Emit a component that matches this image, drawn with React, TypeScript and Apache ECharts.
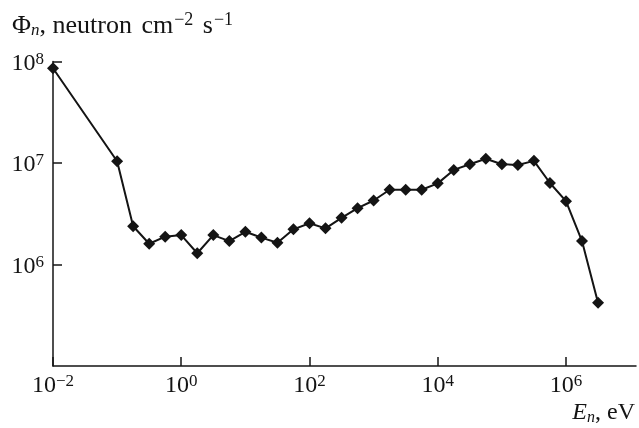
import React, { useEffect, useRef } from 'react';
import * as echarts from 'echarts';

// Neutron energy, eV
const energy = [
  0.01, 0.1, 0.1778, 0.3162, 0.5623, 1, 1.778, 3.162, 5.623, 10, 17.78, 31.62, 56.23,
  100, 177.8, 316.2, 562.3, 1000, 1778, 3162, 5623, 1e4, 1.778e4, 3.162e4, 5.623e4,
  1e5, 1.778e5, 3.162e5, 5.623e5, 1e6, 1.778e6, 3.162e6,
];
// Neutron flux, neutron cm^-2 s^-1
const flux = [
  8.57e7, 1.04e7, 2.38e6, 1.6e6, 1.88e6, 1.95e6, 1.29e6, 1.95e6, 1.7e6, 2.1e6, 1.84e6,
  1.64e6, 2.22e6, 2.55e6, 2.27e6, 2.88e6, 3.59e6, 4.27e6, 5.45e6, 5.45e6, 5.45e6, 6.3e6,
  8.55e6, 9.71e6, 1.1e7, 9.71e6, 9.57e6, 1.05e7, 6.35e6, 4.21e6, 1.7e6, 4.2e5,
];
const xTicks = [0.01, 1, 100, 1e4, 1e6];
const yTicks = [1e6, 1e7, 1e8];

const F = 'Liberation Serif';
const INK = '#141414';

function makeFormatter(shown: number[]) {
  return (v: number) => {
    const hit = shown.find((t) => Math.abs(Math.log10(t) - Math.log10(v)) < 1e-6);
    if (hit === undefined) return '';
    const e = Math.round(Math.log10(hit));
    const s = e < 0 ? '\u2212' + -e : String(e);
    return `{b|10}{s|${s}}`;
  };
}

const labelRich = {
  b: { fontFamily: F, fontSize: 24, color: INK },
  s: { fontFamily: F, fontSize: 17, color: INK, verticalAlign: 'top' },
};

export default function App() {
  const ref = useRef<HTMLDivElement>(null);
  useEffect(() => {
    if (!ref.current) return;
    const chart = echarts.init(ref.current, undefined, { renderer: 'svg' });
    chart.setOption({
      animation: false,
      grid: { left: 53, right: 1, top: 61.5, bottom: 62 },
      xAxis: {
        type: 'log',
        logBase: 10,
        min: 0.01,
        max: 1.236e7,
        axisLine: { show: true, lineStyle: { color: INK, width: 1.5 } },
        axisTick: { show: true, inside: true, length: 9, customValues: xTicks, lineStyle: { color: INK, width: 1.5 } },
        axisLabel: { formatter: makeFormatter(xTicks), rich: labelRich, margin: 6 },
        splitLine: { show: false },
      },
      yAxis: {
        type: 'log',
        logBase: 10,
        min: 1e5,
        max: 1e8,
        axisLine: { show: true, lineStyle: { color: INK, width: 1.5 } },
        axisTick: { show: true, inside: true, length: 9, customValues: yTicks, lineStyle: { color: INK, width: 1.5 } },
        axisLabel: { formatter: makeFormatter(yTicks), rich: labelRich, margin: 9 },
        splitLine: { show: false },
      },
      series: [
        {
          type: 'line',
          data: energy.map((x, i) => [x, flux[i]]),
          symbol: 'diamond',
          symbolSize: 12,
          showSymbol: true,
          lineStyle: { color: INK, width: 2 },
          itemStyle: { color: INK },
        },
      ],
      graphic: [
        {
          type: 'text',
          left: 12,
          top: 10,
          style: {
            text: '{r|\u03A6}{i|n}{r|, neutron}{q| cm}{p|\u22122}{q| s}{p|\u22121}',
            rich: {
              r: { fontFamily: F, fontSize: 26, fill: INK, lineHeight: 28 },
              q: { fontFamily: F, fontSize: 26, fill: INK, lineHeight: 28, padding: [0, 0, 0, 3] },
              i: { fontFamily: F, fontSize: 17, fontStyle: 'italic', fill: INK, verticalAlign: 'bottom', lineHeight: 13 },
              p: { fontFamily: F, fontSize: 18, fill: INK, verticalAlign: 'top', padding: [0, 0, 0, 1] },
            },
          },
        },
        {
          type: 'text',
          right: 4,
          top: 399,
          style: {
            text: '{e|E}{i|n}{r|, eV}',
            rich: {
              e: { fontFamily: F, fontSize: 24, fontStyle: 'italic', fill: INK, lineHeight: 26 },
              r: { fontFamily: F, fontSize: 24, fill: INK, lineHeight: 26 },
              i: { fontFamily: F, fontSize: 16, fontStyle: 'italic', fill: INK, verticalAlign: 'bottom', lineHeight: 12 },
            },
          },
        },
      ],
    });
    return () => chart.dispose();
  }, []);
  return <div ref={ref} style={{ position: 'fixed', left: 0, top: 0, width: 639, height: 428 }} />;
}
